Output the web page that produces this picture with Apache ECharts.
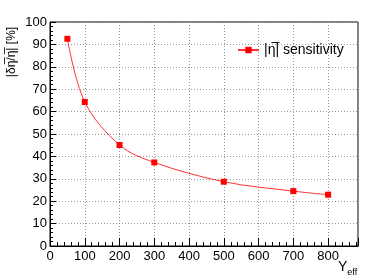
<!DOCTYPE html>
<html><head><meta charset="utf-8">
<script src="https://cdn.jsdelivr.net/npm/echarts@6/dist/echarts.min.js"></script>
<style>html,body{margin:0;padding:0;background:#fff}#c{width:389px;height:280px}</style>
</head><body><div id="c"></div>
<script>
var xValues = [50, 100, 200, 300, 500, 700, 800];
var yValues = [92.5, 64.3, 45.1, 37.3, 28.7, 24.5, 22.9];
var seriesName = '|\u03B7\u0305| sensitivity';
var yTitle = '|\u03B4\u03B7\u0305/\u03B7\u0305| [%]';

var font = 'Liberation Sans, Arial, Helvetica, sans-serif';
var chart = echarts.init(document.getElementById('c'), null, {renderer: 'canvas'});
chart.setOption({
  animation: false,
  backgroundColor: '#fff',
  grid: {left: 50, right: 31, top: 22, bottom: 34, show: true, borderColor: '#000', borderWidth: 1, backgroundColor: 'transparent'},
  legend: {
    left: 237, top: 43, padding: 0, itemWidth: 21, itemHeight: 8, itemGap: 4,
    textStyle: {fontFamily: font, fontSize: 14, color: '#000'},
    data: [{name: seriesName}]
  },
  xAxis: {
    type: 'value', min: 0, max: 886, interval: 100,
    axisLine: {show: true, onZero: false, lineStyle: {color: '#000', width: 1}},
    axisTick: {show: true, inside: true, length: 8, lineStyle: {color: '#000'}},
    minorTick: {show: true, splitNumber: 5, length: 4, lineStyle: {color: '#000'}},
    axisLabel: {fontFamily: font, fontSize: 13, color: '#000', margin: 4, showMaxLabel: false},
    splitLine: {show: true, lineStyle: {color: '#999', type: [1, 2], width: 1}}
  },
  yAxis: {
    type: 'value', min: 0, max: 100, interval: 10,
    axisLine: {show: true, lineStyle: {color: '#000', width: 1}},
    axisTick: {show: true, inside: true, length: 6, lineStyle: {color: '#000'}},
    minorTick: {show: true, splitNumber: 5, length: 3, lineStyle: {color: '#000'}},
    axisLabel: {fontFamily: font, fontSize: 13, color: '#000', margin: 3},
    splitLine: {show: true, lineStyle: {color: '#999', type: [1, 2], width: 1}}
  },
  graphic: [
    {type: 'text', x: 12, y: 52, rotation: Math.PI / 2,
     style: {text: yTitle, fontFamily: font, fontSize: 12, fill: '#000', align: 'center', verticalAlign: 'middle'}},
    {type: 'text', x: 338, y: 260,
     style: {text: '{a|Y}{b|eff}', fontFamily: font, fill: '#000',
       rich: {a: {fontSize: 14, fontFamily: font, fill: '#000', verticalAlign: 'top'}, b: {fontSize: 9, fontFamily: font, fill: '#000', padding: [8, 0, 0, 0]}}}}
  ],
  series: [{
    name: seriesName, type: 'line', smooth: 0.35,
    data: xValues.map(function (x, i) { return [x, yValues[i]]; }),
    symbol: 'rect', symbolSize: 6,
    itemStyle: {color: '#ff0000'},
    lineStyle: {color: '#ff3333', width: 1}
  }]
});
</script></body></html>
